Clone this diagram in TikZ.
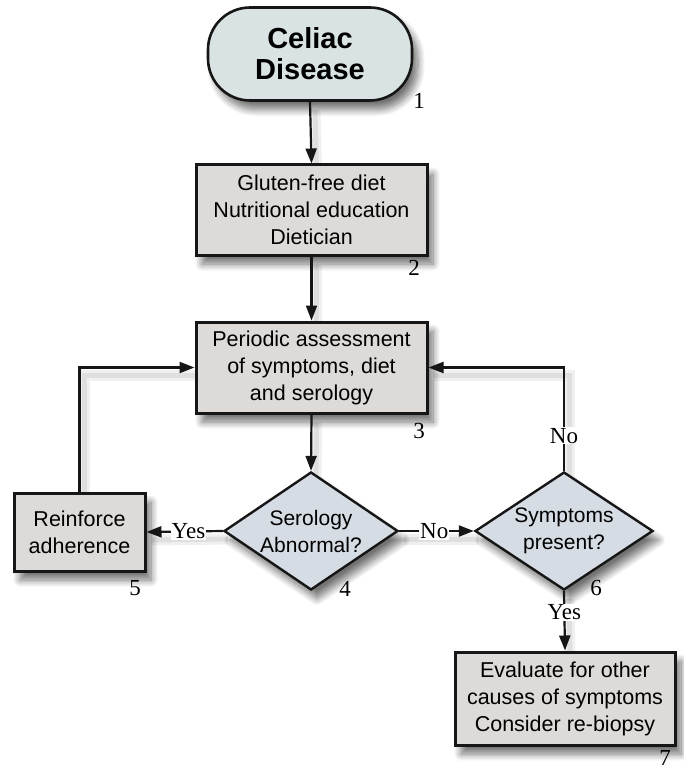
\documentclass[tikz,border=0pt]{standalone}
\usepackage{fontspec}
\setmainfont{Liberation Serif}
\newfontfamily\boxfont{Liberation Sans}
\usetikzlibrary{arrows.meta,shapes.geometric,shadows.blur}
\definecolor{startfill}{HTML}{D9E3E3}
\definecolor{boxfill}{HTML}{DEDAD7}
\definecolor{decfill}{HTML}{D6DCE4}
\definecolor{linecol}{HTML}{161616}
\pgfdeclarelayer{bg}
\pgfsetlayers{bg,main}
\tikzset{
  shad/.style={blur shadow={shadow xshift=6pt,shadow yshift=-9pt,shadow blur steps=10,shadow opacity=55,shadow blur radius=7pt}},
  startbox/.style={draw=linecol,line width=2.6pt,fill=startfill,rounded corners=42pt,
     minimum width=204pt,minimum height=93pt,align=center,font=\boxfont\bfseries\fontsize{29}{31}\selectfont,shad},
  procbox/.style={draw=linecol,line width=3pt,fill=boxfill,align=center,inner sep=0pt,
     font=\boxfont\fontsize{21.5}{27}\selectfont,shad},
  decision/.style={diamond,draw=linecol,line width=2.4pt,fill=decfill,align=center,inner sep=0pt,
     aspect=1.47,font=\boxfont\fontsize{21}{27}\selectfont,shad},
  conn/.style={draw=linecol,line width=2.2pt,-{Triangle[length=15pt,width=11pt]}},
  lshadow/.style={draw=black,opacity=0.06,line width=11pt,transform canvas={shift={(5pt,-8pt)}},
     postaction={draw=black,opacity=0.07,line width=5pt}},
  numlabel/.style={font=\fontsize{23}{23}\selectfont,inner sep=0pt},
  branch/.style={font=\fontsize{23}{23}\selectfont,fill=white,inner sep=1pt}
}
\begin{document}
\begin{tikzpicture}[x=1pt,y=-1pt]
\useasboundingbox (0,0) rectangle (683,770);
\node[startbox] (n1) at (310,54) {Celiac\\Disease};
\node[procbox,minimum width=231pt,minimum height=90pt] (n2) at (311.5,210) {Gluten-free diet\\Nutritional education\\Dietician};
\node[procbox,minimum width=231pt,minimum height=91pt] (n3) at (311.5,367.5) {Periodic assessment\\of symptoms, diet\\and serology};
\node[decision,minimum width=174pt,minimum height=118pt] (n4) at (311,531) {Serology\\Abnormal?};
\node[decision,minimum width=178pt,minimum height=118pt] (n6) at (564,531) {Symptoms\\present?};
\node[procbox,minimum width=131pt,minimum height=78pt] (n5) at (79.5,532) {Reinforce\\adherence};
\node[procbox,minimum width=220pt,minimum height=93pt] (n7) at (565,698.5) {Evaluate for other\\causes of symptoms\\Consider re-biopsy};
% numbers
\node[numlabel] (l1) at (419,101) {1};
\node[numlabel] (l2) at (414,268) {2};
\node[numlabel] (l3) at (419,431) {3};
\node[numlabel] (l4) at (345,589) {4};
\node[numlabel] (l5) at (135,588) {5};
\node[numlabel] (l6) at (596,588) {6};
\node[numlabel] (l7) at (665,758) {7};
% connector shadows
\begin{pgfonlayer}{bg}
\draw[lshadow] (n1.south) -- (n2.north);
\draw[lshadow] (n2.south) -- (n3.north);
\draw[lshadow] (n3.south) -- (n4.north);
\draw[lshadow] (n5.north) |- (n3.west);
\draw[lshadow] (n6.north) |- (n3.east);
\draw[lshadow] (n4.west) -- (n5.east);
\draw[lshadow] (n4.east) -- (n6.west);
\draw[lshadow] (n6.south) -- (n7.north);
\end{pgfonlayer}
% connectors
\draw[conn] (n1.south) -- (n2.north);
\draw[conn] (n2.south) -- (n3.north);
\draw[conn] (n3.south) -- (n4.north);
\draw[conn] (n5.north) |- (n3.west);
\draw[conn] (n6.north) |- node[branch,pos=0.17] (no1) {No} (n3.east);
\draw[conn] (n4.west) -- node[branch,pos=0.45] (yes1) {Yes} (n5.east);
\draw[conn] (n4.east) -- node[branch,pos=0.47] (no2) {No} (n6.west);
\draw[conn] (n6.south) -- node[branch,pos=0.36] (yes2) {Yes} (n7.north);
\end{tikzpicture}
\end{document}
